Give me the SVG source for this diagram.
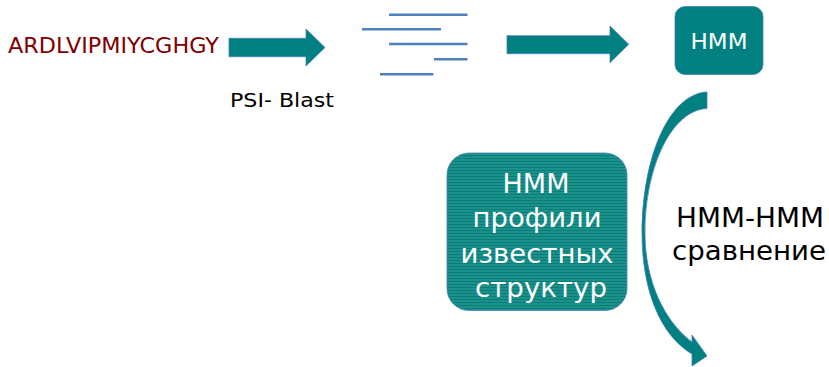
<svg xmlns="http://www.w3.org/2000/svg" width="829" height="367" viewBox="0 0 829 367">
  <style>
    text { font-family: "DejaVu Sans", "Liberation Sans", sans-serif; }
    .seq { fill: #800000; font-size: 21.5px; }
    .label { fill: #000000; }
    .white { fill: #ffffff; text-anchor: middle; }
    .block { fill: #008080; stroke: #4a7ebb; stroke-width: 0.8; }
    .hit { stroke: #4f81bd; stroke-width: 2.4; fill: none; }
  </style>
  <defs>
    <pattern id="stripes" width="6" height="3" patternUnits="userSpaceOnUse">
      <rect width="6" height="3" fill="#1b918b"/>
      <rect y="2" width="6" height="1" fill="#0b7d78"/>
    </pattern>
  </defs>

  <!-- query sequence -->
  <g id="query">
    <text class="seq" x="8" y="53" textLength="211" lengthAdjust="spacingAndGlyphs">ARDLVIPMIYCGHGY</text>
  </g>

  <!-- aligned hits -->
  <g id="alignment">
    <line class="hit" x1="389" y1="14.7" x2="467.5" y2="14.7"/>
    <line class="hit" x1="362" y1="29.3" x2="441" y2="29.3"/>
    <line class="hit" x1="389" y1="44" x2="467.5" y2="44"/>
    <line class="hit" x1="434" y1="59.3" x2="467.5" y2="59.3"/>
    <line class="hit" x1="380" y1="74.3" x2="433.5" y2="74.3"/>
  </g>

  <!-- profile HMM -->
  <g id="hmm">
    <rect class="block" x="675" y="6.5" width="88" height="68" rx="10" ry="10"/>
    <text class="white" x="719" y="49.3" font-size="21" textLength="57" lengthAdjust="spacingAndGlyphs">HMM</text>
  </g>

  <!-- library of known structures -->
  <g id="library">
    <rect x="447" y="153" width="180" height="157.5" rx="22" ry="22" fill="url(#stripes)" stroke="#4a7ebb" stroke-width="0.8"/>
    <text class="white" x="536" y="193" font-size="27" textLength="67" lengthAdjust="spacingAndGlyphs">HMM</text>
    <text class="white" x="537" y="227" font-size="27" textLength="129" lengthAdjust="spacingAndGlyphs">профили</text>
    <text class="white" x="537" y="262.5" font-size="27" textLength="153" lengthAdjust="spacingAndGlyphs">известных</text>
    <text class="white" x="541" y="296.5" font-size="27" textLength="132" lengthAdjust="spacingAndGlyphs">структур</text>
  </g>

  <!-- comparison caption -->
  <g id="comparison">
    <text class="label" x="750" y="227" font-size="26" text-anchor="middle" textLength="148" lengthAdjust="spacingAndGlyphs">HMM-HMM</text>
    <text class="label" x="749" y="260" font-size="26" text-anchor="middle" textLength="154" lengthAdjust="spacingAndGlyphs">сравнение</text>
  </g>

  <!-- connectors -->
  <g id="connectors">
    <path class="block" d="M229,38.3 H306 V29 L325,47.5 L306,66 V56.7 H229 Z"/>
    <text class="label" x="230" y="106.5" font-size="20" textLength="104" lengthAdjust="spacingAndGlyphs">PSI- Blast</text>
    <path class="block" d="M507,35.7 H610 V26 L628.7,44.3 L610,62.7 V53.7 H507 Z"/>
    <path class="block" d="M707,92 C668,94 642,160 642,233 C642,290 660,335 692,354 L692,366 L707,356 L692,335 L692,342 C665,322 645,282 645,233 C645,166 672,110 707,108.5 Z"/>
  </g>
</svg>
